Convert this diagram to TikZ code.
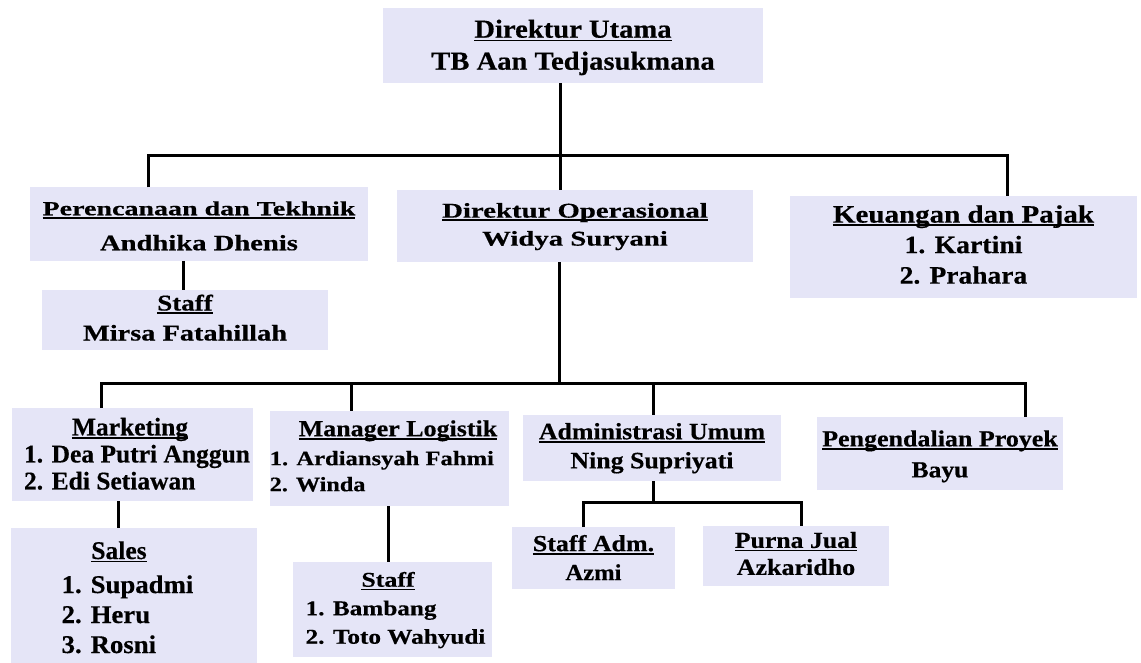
\documentclass[tikz,border=0pt]{standalone}
\usepackage{fontspec}
\usepackage{graphicx}
\setmainfont{Liberation Serif}[BoldFeatures={FakeBold=0.4}]
\definecolor{boxfill}{RGB}{229,229,247}
\newcommand\mytx[3]{\scalebox{#2}[1]{\fontsize{#1}{#1}\selectfont #3}}
\newcommand\myul[1]{\setbox0=\hbox{#1}\rlap{\rule[-3.4pt]{\wd0}{1.6pt}}\box0}
\newcommand\stk[2]{\fontsize{20}{#1}\selectfont\begin{tabular}{@{}c@{}}#2\end{tabular}}
\newcommand\stkl[2]{\fontsize{20}{#1}\selectfont\begin{tabular}{@{}l@{}}#2\end{tabular}}
\tikzset{
  box/.style={fill=boxfill, inner sep=0pt, outer sep=0pt, text=black, font=\bfseries},
  conn/.style={line width=3pt, black, line join=miter}
}
\begin{document}
\begin{tikzpicture}[x=1pt,y=-1pt]
\useasboundingbox (0,0) rectangle (1141,662);
% boxes
\node[box, minimum width=380pt, minimum height=75pt] (dirut) at (573,45.5)
  {\stk{32}{\rule{0pt}{26pt}\mytx{26}{1.1}{\myul{Direktur Utama}}\\ \mytx{26}{1.1}{TB Aan Tedjasukmana}}};
\node[box, minimum width=338pt, minimum height=68pt] (pt) at (199,224)
  {\stk{35}{\rule{0pt}{28pt}\mytx{20}{1.4}{\myul{Perencanaan dan Tekhnik}}\\ \mytx{22}{1.3}{Andhika Dhenis}}};
\node[box, minimum width=286pt, minimum height=57pt] (staff1) at (185,319.5)
  {\stk{30}{\mytx{22.5}{1.2}{\myul{Staff}}\\ \mytx{22.5}{1.26}{Mirsa Fatahillah}}};
\node[box, minimum width=356pt, minimum height=72pt] (dirop) at (575,226)
  {\stk{28}{\mytx{21}{1.37}{\myul{Direktur Operasional}}\\ \mytx{21}{1.37}{Widya Suryani}}};
\node[box, minimum width=347pt, minimum height=102pt] (keu) at (963.5,247)
  {\stk{30.5}{\mytx{25}{1.16}{\myul{Keuangan dan Pajak}}\\ \mytx{25}{1.11}{1. Kartini}\\ \mytx{25}{1.1}{2. Prahara}}};
\node[box, minimum width=241pt, minimum height=93pt] (mkt) at (132.5,454.5)
  {\hspace*{9pt}\stkl{27}{\multicolumn{1}{@{}c@{}}{\hspace*{-14pt}\rule{0pt}{24pt}\mytx{25.5}{1.0}{\myul{Marketing}}}\\ \mytx{25.5}{1.0}{1. Dea Putri Anggun}\\ \mytx{25.5}{1.0}{2. Edi Setiawan}}};
\node[box, minimum width=246pt, minimum height=144pt] (sales) at (134,600)
  {\stkl{30}{\multicolumn{1}{@{}c@{}}{\hspace*{-17pt}\mytx{25.5}{1.0}{\myul{Sales}}}\\[4pt] \mytx{25.5}{1.05}{1. Supadmi}\\ \mytx{25.5}{1.05}{2. Heru}\\ \mytx{25.5}{1.05}{3. Rosni}}\hspace*{13pt}};
\node[box, minimum width=235pt, minimum height=95pt] (mlog) at (389.5,458.5)
  {\stkl{26}{\multicolumn{1}{@{}c@{}}{\hspace*{29pt}\mytx{23}{1.13}{\myul{Manager Logistik}}}\\[3pt] \mytx{20.5}{1.2}{1. Ardiansyah Fahmi}\\ \mytx{20.5}{1.18}{2. Winda}}\hspace*{12pt}};
\node[box, minimum width=199pt, minimum height=95pt] (stafflog) at (392.5,609.5)
  {\hspace*{6pt}\stkl{28.5}{\multicolumn{1}{@{}c@{}}{\hspace*{-15pt}\mytx{21}{1.23}{\myul{Staff}}}\\ \mytx{21}{1.2}{1. Bambang}\\ \mytx{21}{1.2}{2. Toto Wahyudi}}};
\node[box, minimum width=258pt, minimum height=66pt] (adm) at (652,448)
  {\stk{29}{\mytx{23.5}{1.1}{\myul{Administrasi Umum}}\\ \mytx{23.5}{1.1}{Ning Supriyati}}};
\node[box, minimum width=246pt, minimum height=73pt] (peng) at (940,453.5)
  {\stk{31}{\rule{0pt}{26pt}\mytx{23}{1.13}{\myul{Pengendalian Proyek}}\\ \mytx{23}{1.11}{Bayu}}};
\node[box, minimum width=163pt, minimum height=62pt] (stadm) at (593.5,558)
  {\stk{29}{\rule{0pt}{24pt}\mytx{23}{1.13}{\myul{Staff Adm.}}\\ \mytx{23}{1.07}{Azmi}}};
\node[box, minimum width=186pt, minimum height=60pt] (purna) at (796,556)
  {\stk{27}{\mytx{23}{1.12}{\myul{Purna Jual}}\\ \mytx{23}{1.13}{Azkaridho}}};
% junction coordinates
\coordinate (b1l) at (148,155);
\coordinate (b1m) at (560,155);
\coordinate (b1r) at (1007,155);
\coordinate (x1) at (183,0);
\coordinate (b2a) at (101,383);
\coordinate (b2b) at (351,383);
\coordinate (b2m) at (559,383);
\coordinate (b2c) at (653,383);
\coordinate (b2d) at (1025,383);
\coordinate (x2) at (118,0);
\coordinate (x3) at (388,0);
\coordinate (b3l) at (583,502);
\coordinate (b3m) at (653,502);
\coordinate (b3r) at (801,502);
% connectors
\draw[conn] (dirut.south -| b1m) -- (dirop.north -| b1m);
\draw[conn] (pt.north -| b1l) -- (b1l) -- (b1r) -- (keu.north -| b1r);
\draw[conn] (pt.south -| x1) -- (staff1.north -| x1);
\draw[conn] (dirop.south -| b2m) -- (b2m);
\draw[conn] (mkt.north -| b2a) -- (b2a) -- (b2d) -- (peng.north -| b2d);
\draw[conn] (b2b) -- (mlog.north -| b2b);
\draw[conn] (b2c) -- (adm.north -| b2c);
\draw[conn] (mkt.south -| x2) -- (sales.north -| x2);
\draw[conn] (mlog.south -| x3) -- (stafflog.north -| x3);
\draw[conn] (adm.south -| b3m) -- (b3m);
\draw[conn] (stadm.north -| b3l) -- (b3l) -- (b3r) -- (purna.north -| b3r);
\end{tikzpicture}
\end{document}
